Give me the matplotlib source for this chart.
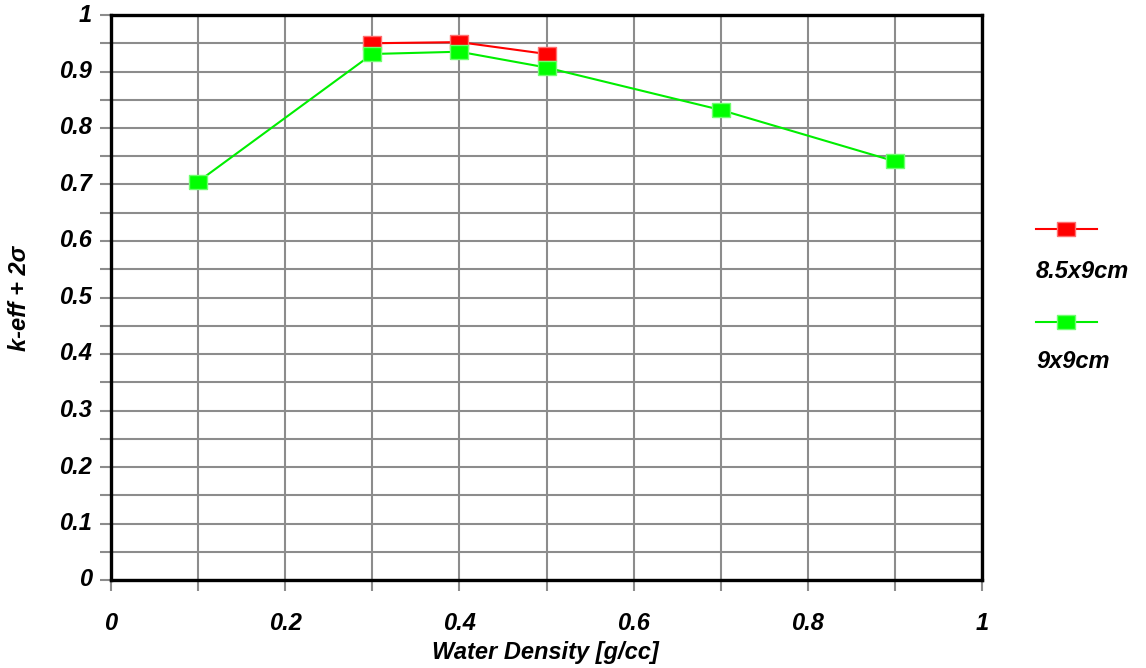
import matplotlib
matplotlib.use("Agg")
import matplotlib.pyplot as plt
from matplotlib.lines import Line2D
import numpy as np

plt.rcParams['font.family'] = ['Liberation Sans', 'DejaVu Sans']

x_red = [0.3, 0.4, 0.5]
y_red = [0.950, 0.952, 0.931]
x_green = [0.1, 0.3, 0.4, 0.5, 0.7, 0.9]
y_green = [0.705, 0.931, 0.935, 0.907, 0.832, 0.741]
labels = ["8.5x9cm", "9x9cm"]
x_ticklabels = ["0", "0.2", "0.4", "0.6", "0.8", "1"]
y_ticklabels = ["0", "0.1", "0.2", "0.3", "0.4", "0.5", "0.6", "0.7", "0.8", "0.9", "1"]

fig = plt.figure(figsize=(11.46, 6.68), dpi=100)
ax = fig.add_axes([111/1146, 1-580/668, (982-111)/1146, (580-15)/668])

rect = [(-9, -7), (9, -7), (9, 7), (-9, 7), (-9, -7)]
font = dict(fontsize=17, fontweight='bold', fontstyle='italic')

ax.plot(x_red, y_red, color='#ff0000', lw=1.5, marker=rect, markersize=13,
        markerfacecolor='#ff0000', markeredgecolor='#ff7070', markeredgewidth=1, zorder=3)
ax.plot(x_green, y_green, color='#00ee00', lw=1.5, marker=rect, markersize=13,
        markerfacecolor='#00ff00', markeredgecolor='#70ff70', markeredgewidth=1, zorder=4)

ax.set_xlim(0, 1)
ax.set_ylim(0, 1)
ax.set_xticks(np.arange(0, 1.01, 0.1))
ax.set_yticks(np.arange(0, 1.001, 0.05))
ax.grid(True, color='#8c8c8c', lw=1.5, zorder=1)
ax.set_axisbelow(True)
ax.tick_params(axis='both', which='major', length=8, width=1.5, color='#8c8c8c',
               direction='out')
ax.set_xticklabels([])
ax.set_yticklabels([])
for i, t in enumerate(x_ticklabels):
    ax.annotate(t, xy=(i * 0.2, 0), xycoords=('data', 'axes fraction'), xytext=(0, -43),
                textcoords='offset pixels', ha='center', va='center', **font)
for i, t in enumerate(y_ticklabels):
    ax.annotate(t, xy=(0, i * 0.1), xycoords=('axes fraction', 'data'), xytext=(-19, 0),
                textcoords='offset pixels', ha='right', va='center', **font)

for s in ax.spines.values():
    s.set_color('black')
    s.set_linewidth(2.4)
    s.set_zorder(5)

fig.text(545/1146, 1-652/668, "Water Density [g/cc]", ha='center', va='center', **font)
fig.text(20/1146, 1-298/668, "k-eff + 2σ", ha='center', va='center', rotation=90, **font)

# legend
leg = [(229, '#ff0000', '#00ff00', labels[0], 272), (322, '#00ee00', '#00ff00', labels[1], 361)]
for (ly, lc, _, lab, ty), ec in zip(leg, ['#ff7070', '#70ff70']):
    fc = '#00ff00' if lc == '#00ee00' else lc
    fig.add_artist(Line2D([1036/1146, 1097/1146], [1-ly/668, 1-ly/668], color=lc, lw=1.5,
                          transform=fig.transFigure))
    fig.add_artist(Line2D([1066/1146], [1-ly/668], color=lc, marker=rect, markersize=13,
                          markerfacecolor=fc, markeredgecolor=ec, markeredgewidth=1,
                          transform=fig.transFigure))
    fig.text(1036/1146, 1-ty/668, lab, ha='left', va='center', **font)

fig.savefig("out.png", dpi=100)
